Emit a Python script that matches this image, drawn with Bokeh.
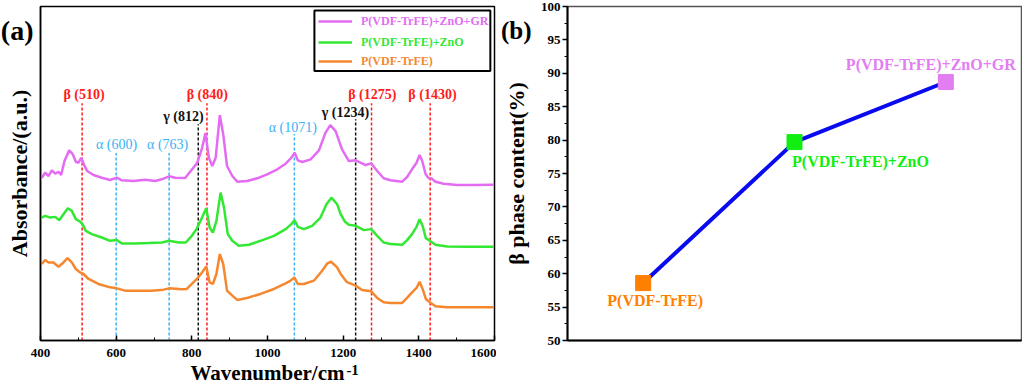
from bokeh.plotting import figure
from bokeh.models import (Legend, LegendItem, BoxAnnotation, FixedTicker, LinearAxis,
                          Range1d, ColumnDataSource)
from bokeh.layouts import row
from bokeh.embed import file_html
from bokeh.resources import INLINE
from bokeh.core.properties import value

SERIF = "Liberation Serif"

# ---------------- data: panel (a) FTIR spectra ----------------
series_names = ["P(VDF-TrFE)+ZnO+GR", "P(VDF-TrFE)+ZnO", "P(VDF-TrFE)"]

pink_w = [403.5, 412.3, 421, 430, 438.8, 447.6, 454.6, 463.4, 475.8, 484.6, 493.4, 500.4,
          507.5, 514.5, 523.3, 540, 562, 584, 601.7, 615, 646, 676.6, 703, 725, 740, 756,
          782.3, 796, 814, 827, 836, 845, 854, 863, 874, 883, 893, 907, 920, 946, 973, 999,
          1026, 1048, 1063, 1072, 1080, 1092, 1114, 1136, 1153, 1166, 1180, 1197, 1215,
          1233, 1246, 1259, 1274, 1290, 1307, 1325, 1356, 1369, 1382, 1394, 1402, 1409,
          1418, 1426, 1433, 1444, 1466, 1501, 1545, 1598]
pink_a = [1.633, 1.683, 1.65, 1.707, 1.673, 1.693, 1.66, 1.8, 1.907, 1.873, 1.793, 1.783,
          1.833, 1.767, 1.7, 1.66, 1.633, 1.61, 1.633, 1.607, 1.6, 1.613, 1.6, 1.623, 1.647,
          1.633, 1.63, 1.695, 1.78, 1.93, 2.08, 1.833, 1.75, 1.833, 2.26, 2.067, 1.75, 1.65,
          1.593, 1.6, 1.627, 1.667, 1.717, 1.773, 1.833, 1.883, 1.807, 1.79, 1.817, 1.907,
          2.083, 2.16, 2.1, 1.917, 1.8, 1.807, 1.783, 1.76, 1.777, 1.7, 1.627, 1.607, 1.593,
          1.64, 1.717, 1.783, 1.86, 1.8, 1.667, 1.627, 1.627, 1.593, 1.573, 1.56, 1.56, 1.563]

green_w = [403.5, 412, 425.5, 438.8, 449.3, 460.8, 472.2, 482.8, 493.4, 504.8, 511, 519.8,
           535.7, 562, 584, 601.7, 615, 650, 685, 721, 740, 765, 784, 800, 813, 827, 838,
           847, 855.5, 865, 876, 885, 895, 907, 924, 951, 981.5, 1017, 1048, 1063, 1072,
           1080, 1096, 1118, 1140, 1156, 1169, 1184, 1193, 1205, 1215, 1233, 1255, 1274,
           1290, 1307, 1325, 1356, 1369, 1382, 1394, 1402, 1410, 1418.5, 1429, 1444, 1475,
           1528, 1598]
green_a = [1.233, 1.25, 1.233, 1.24, 1.207, 1.267, 1.327, 1.3, 1.217, 1.193, 1.167, 1.1,
           1.067, 1.033, 1.0, 1.007, 0.973, 0.973, 0.977, 0.983, 1.0, 0.983, 0.983, 1.05,
           1.12, 1.233, 1.327, 1.133, 1.083, 1.2, 1.483, 1.333, 1.067, 1.0, 0.95, 0.96, 1.0,
           1.05, 1.117, 1.167, 1.207, 1.14, 1.117, 1.15, 1.233, 1.367, 1.433, 1.367, 1.27,
           1.19, 1.16, 1.15, 1.107, 1.117, 1.05, 0.983, 0.967, 0.96, 1.007, 1.067, 1.14,
           1.217, 1.15, 1.027, 1.0, 0.96, 0.943, 0.94, 0.94]

orange_w = [403.5, 412.3, 421, 434.3, 447.6, 460.8, 471.3, 482.8, 493.4, 504.8, 513.6, 527,
            553, 584, 601.7, 624, 659, 694, 725, 740, 773.5, 786.7, 800, 814, 827, 838, 847,
            855.5, 865, 874, 883, 893, 907, 920, 946, 981.5, 1017, 1048, 1061, 1071, 1080,
            1096, 1122.5, 1144.5, 1158, 1168, 1184, 1193, 1210, 1233, 1250, 1274, 1290, 1307,
            1325, 1356, 1369, 1382, 1394, 1402, 1410, 1418.5, 1429, 1444, 1475, 1545, 1598]
orange_a = [0.767, 0.807, 0.783, 0.783, 0.74, 0.783, 0.827, 0.783, 0.717, 0.683, 0.667,
            0.617, 0.567, 0.533, 0.523, 0.5, 0.5, 0.5, 0.51, 0.523, 0.513, 0.517, 0.567, 0.62,
            0.683, 0.743, 0.583, 0.567, 0.667, 0.867, 0.767, 0.5, 0.45, 0.407, 0.427, 0.467,
            0.517, 0.573, 0.6, 0.633, 0.567, 0.567, 0.6, 0.7, 0.773, 0.79, 0.733, 0.67, 0.585,
            0.55, 0.507, 0.493, 0.427, 0.383, 0.377, 0.377, 0.427, 0.483, 0.527, 0.59, 0.517,
            0.417, 0.383, 0.343, 0.333, 0.333, 0.333]

# characteristic band markers
band_pos = [510, 840, 1275, 1430, 600, 740, 1071, 817, 1233]
band_kind = ["beta", "beta", "beta", "beta", "alpha", "alpha", "alpha", "gamma", "gamma"]
band_text = ["β (510)", "β (840)", "β (1275)", "β (1430)", "α (600)", "α (763)",
             "α (1071)", "γ (812)", "γ (1234)"]

x_ticks = [400, 600, 800, 1000, 1200, 1400, 1600]
x_minor = [500, 700, 900, 1100, 1300, 1500]

# ---------------- data: panel (b) beta-phase content ----------------
sample_idx = [1, 2, 3]
sample_names = ["P(VDF-TrFE)", "P(VDF-TrFE)+ZnO", "P(VDF-TrFE)+ZnO+GR"]
beta_content = [58.6, 79.7, 88.7]
y_ticks_b = [50, 55, 60, 65, 70, 75, 80, 85, 90, 95, 100]
y_minor_b = [52.5, 57.5, 62.5, 67.5, 72.5, 77.5, 82.5, 87.5, 92.5, 97.5]

# ---------------- styles / layout constants ----------------
PINK, GREEN, ORANGE = "#e46cf2", "#33e833", "#f5882f"
KIND_COLOR = {"beta": "#ff1c1c", "alpha": "#39b2f5", "gamma": "#111111"}
band_top = [2.38, 2.38, 2.38, 2.38, 1.88, 1.88, 2.07, 2.17, 2.22]      # line ends
label_x = [515, 841, 1277, 1436, 601, 736, 1067, 778, 1206]            # label centres
label_y = [2.47, 2.47, 2.47, 2.47, 1.97, 1.97, 2.14, 2.25, 2.29]
PANEL_A_Y = 3.106      # vertical anchor of the "(a)" tag
PANEL_B_Y = 96.4       # vertical anchor of the "(b)" tag
SUP_X = 1225           # horizontal anchor of the "-1" superscript


def style_text_axis(ax, size, standoff):
    ax.major_label_text_font = SERIF
    ax.major_label_text_font_style = "bold"
    ax.major_label_text_font_size = size
    ax.major_label_text_color = "black"
    ax.major_label_standoff = standoff


def style_title(ax, text, size, standoff):
    ax.axis_label = text
    ax.axis_label_text_font = SERIF
    ax.axis_label_text_font_style = "bold"
    ax.axis_label_text_font_size = size
    ax.axis_label_text_color = "black"
    ax.axis_label_standoff = standoff


def hide_lines(ax):
    ax.axis_line_color = None
    ax.major_tick_line_color = None
    ax.minor_tick_line_color = None


# ================= panel (a) =================
p1 = figure(width=496, height=388, x_range=Range1d(400, 1600), y_range=Range1d(0, 3.35),
            output_backend="svg", toolbar_location=None,
            min_border_left=40, min_border_right=2, min_border_top=6, min_border_bottom=48)
p1.grid.visible = False
p1.outline_line_color = "black"
p1.outline_line_width = 1.5
p1.outline_line_alpha = 1

xa = p1.xaxis[0]
xa.ticker = FixedTicker(ticks=x_ticks, minor_ticks=x_minor)
xa.major_tick_in = 5
xa.major_tick_out = 0
xa.minor_tick_in = 3
xa.minor_tick_out = 0
style_text_axis(xa, "13px", 8)
xa.axis_line_width = 1.5
xa.major_tick_line_width = 1.5

# second bottom axis: superscript "-1" + title
xa2 = LinearAxis(ticker=FixedTicker(ticks=[SUP_X]), major_label_overrides={SUP_X: "-1"})
hide_lines(xa2)
style_text_axis(xa2, "15px", -1)
style_title(xa2, "Wavenumber/cm", "21px", -17)
p1.add_layout(xa2, "below")

ya = p1.yaxis[0]
ya.ticker = FixedTicker(ticks=[PANEL_A_Y])
ya.major_label_overrides = {PANEL_A_Y: "(a)"}
ya.major_tick_out = 0
ya.major_tick_in = 0
ya.major_tick_line_color = None
style_text_axis(ya, "28px", 7)
style_title(ya, "Absorbance/(a.u.)", "22px", -34)
ya.axis_line_width = 1.5

# band markers
kinds_color = [KIND_COLOR[k] for k in band_kind]
seg_src = ColumnDataSource(dict(x=band_pos, top=band_top, color=kinds_color))
p1.segment(x0="x", y0=0, x1="x", y1="top", color="color", line_dash="3 2",
           line_width=1.5, source=seg_src)

bold_idx = [i for i, k in enumerate(band_kind) if k != "alpha"]
norm_idx = [i for i, k in enumerate(band_kind) if k == "alpha"]
for idxs, style in ((bold_idx, "bold"), (norm_idx, "normal")):
    src = ColumnDataSource(dict(x=[label_x[i] for i in idxs], y=[label_y[i] for i in idxs],
                                t=[band_text[i] for i in idxs],
                                c=[kinds_color[i] for i in idxs]))
    p1.text(x="x", y="y", text="t", text_color="c", source=src,
            text_font=value(SERIF), text_font_style=style, text_font_size="14px",
            text_align="center", text_baseline="middle")

r_pink = p1.line(pink_w, pink_a, color=PINK, line_width=2.5)
r_green = p1.line(green_w, green_a, color=GREEN, line_width=2.5)
r_orange = p1.line(orange_w, orange_a, color=ORANGE, line_width=2.5)

# legend frame + three single-item legends (coloured text)
p1.add_layout(BoxAnnotation(left=1124, right=1589, top=3.31, bottom=2.704,
                            fill_color="white", fill_alpha=1,
                            line_color="black", line_width=2, line_alpha=1))
for r, name, col, ly in ((r_pink, series_names[0], PINK, 311),
                         (r_green, series_names[1], GREEN, 290),
                         (r_orange, series_names[2], ORANGE, 271)):
    lg = Legend(items=[LegendItem(label=name, renderers=[r])], location=(278, ly),
                padding=0, margin=0, spacing=0, glyph_width=34, glyph_height=16,
                label_height=16, label_standoff=9,
                label_text_font=SERIF, label_text_font_style="bold",
                label_text_font_size="12px", label_text_color=col,
                background_fill_alpha=0, border_line_color=None)
    p1.add_layout(lg, "center")

# ================= panel (b) =================
p2 = figure(width=526, height=388, x_range=Range1d(0.5, 3.5), y_range=Range1d(50, 100),
            output_backend="svg", toolbar_location=None,
            min_border_left=71, min_border_right=1, min_border_top=6, min_border_bottom=47)
p2.grid.visible = False
p2.outline_line_color = "#555555"
p2.outline_line_width = 1.5
p2.outline_line_alpha = 1

xb = p2.xaxis[0]
xb.ticker = FixedTicker(ticks=[])
xb.major_label_standoff = 0
xb.axis_line_width = 2

yb = p2.yaxis[0]
yb.ticker = FixedTicker(ticks=y_ticks_b, minor_ticks=y_minor_b)
yb.major_tick_out = 5
yb.major_tick_in = 0
yb.minor_tick_out = 3
yb.minor_tick_in = 0
yb.major_tick_line_width = 1.5
yb.axis_line_width = 2
style_text_axis(yb, "13px", 2)

# outer left axis: "(b)" tag + title
yb2 = LinearAxis(ticker=FixedTicker(ticks=[PANEL_B_Y]),
                 major_label_overrides={PANEL_B_Y: "(b)"})
hide_lines(yb2)
style_text_axis(yb2, "25px", 0)
style_title(yb2, "β phase content(%)", "22px", -31)
p2.add_layout(yb2, "left")

marker_colors = ["#ff8000", "#11ee11", "#e27ef2"]
src_b = ColumnDataSource(dict(x=sample_idx, y=beta_content, c=marker_colors,
                              t=sample_names, dx=[12, 66, -15], dy=[17, 19, -17]))
p2.line("x", "y", source=src_b, color="#0a0af0", line_width=4)
p2.scatter("x", "y", source=src_b, marker="square", size=15, fill_color="c", line_color="c")
p2.text(x="x", y="y", text="t", x_offset="dx", y_offset="dy", text_color="c", source=src_b,
        text_font=value(SERIF), text_font_style="bold", text_font_size="16px",
        text_align="center", text_baseline="middle")

layout = row(p1, p2, spacing=0)
open("out.html", "w").write(file_html(layout, INLINE))
